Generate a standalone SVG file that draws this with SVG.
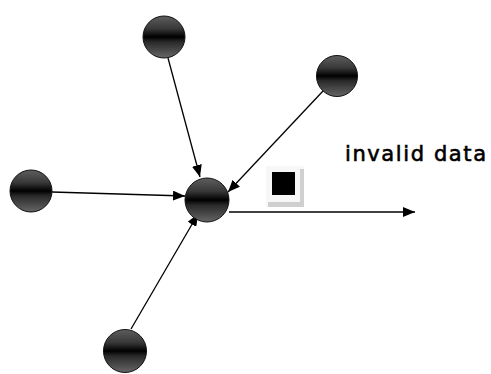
<svg xmlns="http://www.w3.org/2000/svg" width="491" height="374" viewBox="0 0 491 374">
  <style>
    .ball { fill: url(#ballShade); stroke: #111; stroke-width: 1; }
    .edge { fill: none; stroke: #000; stroke-width: 1.3; marker-end: url(#arrow); }
    .label { font-family: "DejaVu Sans", "Liberation Sans", sans-serif; font-size: 21px; letter-spacing: 1.6px; fill: #000; stroke: #000; stroke-width: 0.6px; }
  </style>
  <defs>
    <linearGradient id="ballShade" x1="0" y1="0" x2="0" y2="1">
      <stop offset="0" stop-color="#5e5e5e"/>
      <stop offset="0.3" stop-color="#383838"/>
      <stop offset="0.5" stop-color="#000"/>
      <stop offset="0.62" stop-color="#2a2a2a"/>
      <stop offset="1" stop-color="#666"/>
    </linearGradient>
    <marker id="arrow" viewBox="0 0 12 10" refX="12" refY="5" markerWidth="12" markerHeight="10" markerUnits="userSpaceOnUse" orient="auto">
      <path d="M0,0 L12,5 L0,10 Z" fill="#000"/>
    </marker>
  </defs>

  <g id="connectors">
    <line class="edge" x1="52" y1="192" x2="185" y2="196"/>
    <line class="edge" x1="168" y1="58" x2="200" y2="177"/>
    <line class="edge" x1="323" y1="91" x2="228" y2="192"/>
    <line class="edge" x1="131" y1="329" x2="198" y2="214"/>
    <line class="edge" x1="229" y1="212" x2="415" y2="212"/>
  </g>

  <g id="node-top"><circle class="ball" cx="164" cy="37" r="21"/></g>
  <g id="node-upper-right"><circle class="ball" cx="337" cy="76" r="20.5"/></g>
  <g id="node-left"><circle class="ball" cx="31" cy="191" r="21"/></g>
  <g id="node-bottom"><circle class="ball" cx="125" cy="351" r="21.5"/></g>
  <g id="node-center"><circle class="ball" cx="207" cy="200" r="22"/></g>

  <g id="token">
    <rect x="266" y="166" width="38" height="41" fill="#f7f7f7"/>
    <rect x="300" y="169" width="4" height="38" fill="#d0d0d0"/>
    <rect x="268" y="202" width="36" height="5" fill="#cfcfcf"/>
    <rect x="272" y="172" width="23" height="23" fill="#000"/>
  </g>

  <text class="label" x="345" y="161">invalid data</text>
</svg>
